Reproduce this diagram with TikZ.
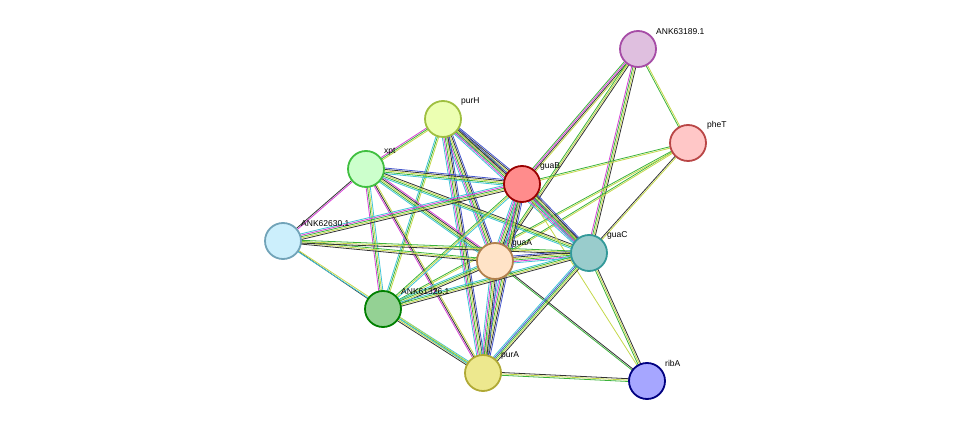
\documentclass[tikz,border=0pt]{standalone}
\usepackage{fontspec}
\setmainfont{Liberation Sans}
\usetikzlibrary{calc}
\definecolor{xg}{HTML}{3BB33B}\definecolor{xy}{HTML}{C4D84A}\definecolor{xk}{HTML}{333333}
\definecolor{xm}{HTML}{D63FD6}\definecolor{xc}{HTML}{3FC4D6}\definecolor{xb}{HTML}{4455CC}
\newcommand\edg[4]{\foreach \cl [count=\i] in {#4}{\pgfmathsetmacro\o{(\i-(#3+1)/2)*1.4}
 \draw[draw=\cl,line width=0.8pt] ($(#1)!\o pt!90:(#2)$) -- ($(#2)!\o pt!-90:(#1)$);}}
\tikzset{pn/.style={circle,minimum size=36pt,line width=1.8pt,inner sep=0pt},
 lb/.style={font=\fontsize{8.5}{10}\selectfont,anchor=south west,inner sep=1pt}}
\begin{document}
\begin{tikzpicture}[x=1pt,y=-1pt]
\useasboundingbox (0,0) rectangle (976,427);
\coordinate (A189) at (638,49);\coordinate (phe) at (688,143);\coordinate (purH) at (443,119);
\coordinate (xpt) at (366,169);\coordinate (guaB) at (522,184);\coordinate (A630) at (283,241);
\coordinate (guaA) at (495,261);\coordinate (guaC) at (589,253);\coordinate (A326) at (383,309);
\coordinate (purA) at (483,373);\coordinate (ribA) at (647,381);
\edg{A189}{guaB}{4}{xg,xm,xk,xy}
\edg{A189}{guaA}{3}{xg,xy,xk}
\edg{A189}{guaC}{4}{xm,xg,xy,xk}
\edg{A189}{phe}{2}{xg,xy}
\edg{phe}{guaB}{2}{xg,xy}
\edg{phe}{guaA}{2}{xg,xy}
\edg{phe}{guaC}{2}{xk,xy}
\edg{phe}{A326}{2}{xg,xy}
\edg{purH}{xpt}{3}{xm,xg,xy}
\edg{purH}{guaB}{6}{xc,xm,xg,xy,xk,xb}
\edg{purH}{guaA}{6}{xc,xm,xg,xy,xk,xb}
\edg{purH}{guaC}{6}{xc,xm,xg,xy,xk,xb}
\edg{purH}{purA}{6}{xc,xm,xg,xy,xk,xb}
\edg{purH}{A326}{3}{xc,xg,xy}
\edg{xpt}{guaB}{5}{xc,xg,xy,xk,xb}
\edg{xpt}{guaA}{5}{xc,xg,xy,xk,xm}
\edg{xpt}{guaC}{4}{xc,xg,xy,xk}
\edg{xpt}{purA}{3}{xm,xk,xy}
\edg{xpt}{A326}{4}{xm,xg,xy,xc}
\edg{xpt}{A630}{2}{xk,xm}
\edg{guaB}{guaA}{6}{xc,xm,xg,xy,xk,xb}
\edg{guaB}{guaC}{6}{xc,xm,xg,xy,xk,xb}
\edg{guaB}{purA}{6}{xc,xm,xg,xy,xk,xb}
\edg{guaB}{A326}{3}{xg,xy,xc}
\edg{guaB}{A630}{5}{xc,xm,xg,xy,xk}
\edg{guaB}{ribA}{1}{xy}
\edg{guaA}{guaC}{6}{xc,xm,xg,xy,xk,xb}
\edg{guaA}{purA}{6}{xc,xm,xg,xy,xk,xb}
\edg{guaA}{A326}{4}{xc,xg,xy,xk}
\edg{guaA}{A630}{3}{xg,xy,xk}
\edg{guaA}{ribA}{2}{xg,xk}
\edg{guaC}{purA}{5}{xc,xb,xg,xy,xk}
\edg{guaC}{A326}{4}{xc,xg,xy,xk}
\edg{guaC}{ribA}{3}{xg,xy,xk}
\edg{guaC}{A630}{3}{xg,xy,xk}
\edg{purA}{ribA}{3}{xg,xy,xk}
\edg{purA}{A326}{4}{xc,xg,xy,xk}
\edg{A630}{A326}{1}{xk}
\edg{A630}{purA}{2}{xc,xy}
\node[pn,draw=violet!70,fill=violet!25] (nA189) at (A189) {};
\node[pn,draw=red!45!gray,fill=red!22] (nphe) at (phe) {};
\node[pn,draw=lime!50!gray,fill=lime!30] (npurH) at (purH) {};
\node[pn,draw=green!50!gray,fill=green!20] (nxpt) at (xpt) {};
\node[pn,draw=red!60!black,fill=red!45] (nguaB) at (guaB) {};
\node[pn,draw=cyan!40!gray,fill=cyan!20] (nA630) at (A630) {};
\node[pn,draw=orange!40!gray,fill=orange!22] (nguaA) at (guaA) {};
\node[pn,draw=teal!80,fill=teal!40] (nguaC) at (guaC) {};
\node[pn,draw=green!50!black,fill=green!40!gray!60] (nA326) at (A326) {};
\node[pn,draw=olive!70,fill=olive!40!yellow!40] (npurA) at (purA) {};
\node[pn,draw=blue!50!black,fill=blue!35] (nribA) at (ribA) {};
\node[lb] at ($(A189)+(17,-13)$) {ANK63189.1};
\node[lb] at ($(phe)+(18,-13)$) {pheT};
\node[lb] at ($(purH)+(17,-13)$) {purH};
\node[lb] at ($(xpt)+(17,-13)$) {xpt};
\node[lb] at ($(guaB)+(17,-13)$) {guaB};
\node[lb] at ($(A630)+(17,-13)$) {ANK62630.1};
\node[lb] at ($(guaA)+(16,-13)$) {guaA};
\node[lb] at ($(guaC)+(17,-13)$) {guaC};
\node[lb] at ($(A326)+(17,-13)$) {ANK61326.1};
\node[lb] at ($(purA)+(17,-13)$) {purA};
\node[lb] at ($(ribA)+(17,-13)$) {ribA};
\end{tikzpicture}
\end{document}
